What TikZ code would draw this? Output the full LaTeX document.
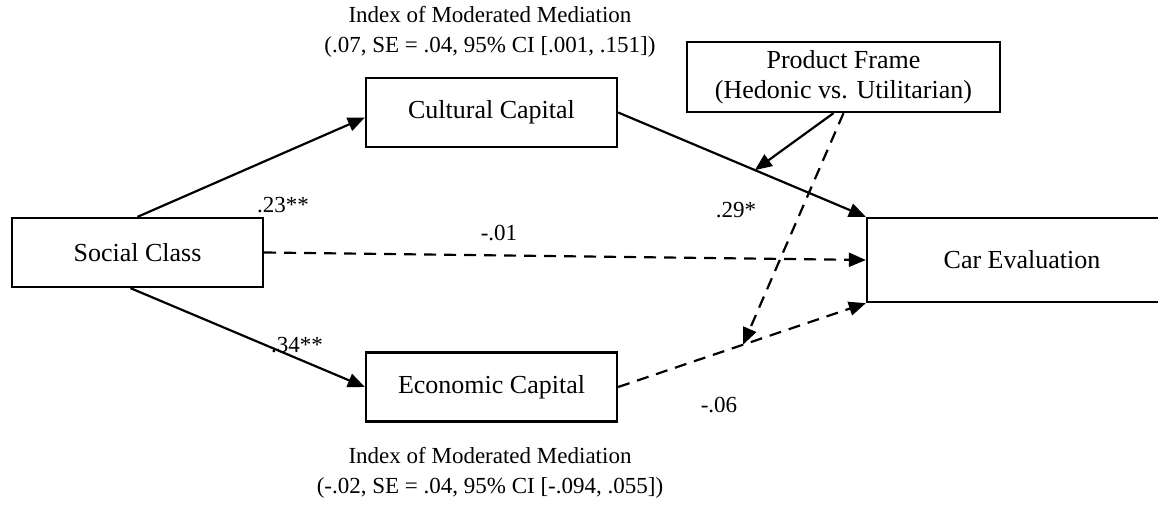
\documentclass[tikz,border=0pt]{standalone}
\usepackage{fontspec}
\setmainfont{Liberation Serif}
\usetikzlibrary{arrows.meta,calc}
\begin{document}
\begin{tikzpicture}[x=1pt,y=-1pt,
  box/.style={draw,line width=2.3pt,inner sep=0pt,font=\fontsize{26}{30}\selectfont,align=center},
  lbl/.style={inner sep=0pt,font=\fontsize{23}{30}\selectfont,align=center},
  conn/.style={line width=2.2pt,-{Triangle[length=17pt,width=14pt]}},
  dconn/.style={conn,dash pattern=on 12pt off 8pt}]
\useasboundingbox (0,0) rectangle (1158,527);
\node[box,minimum width=251pt,minimum height=69pt] (SC) at (137.5,252.5) {Social Class};
\node[box,minimum width=251pt,minimum height=69pt] (CC) at (491.5,112.5) {Cultural Capital};
\node[box,minimum width=251pt,minimum height=69pt] (EC) at (491.5,387) {Economic Capital};
\node[box,minimum width=313pt,minimum height=70pt] (PF) at (843.5,77) {Product Frame\\(Hedonic vs. Utilitarian)};
\node[box,minimum width=310pt,minimum height=84pt] (CE) at (1022,260) {Car Evaluation};
\coordinate (m1) at ($(CC.east)!0.552!(CE.north west)$);
\coordinate (m2) at ($(EC.east)!0.504!(CE.south west)$);
\draw[conn] (SC.north) -- ([yshift=-5pt]CC.west);
\draw[conn] ([xshift=-7pt]SC.south) -- (EC.west);
\draw[dconn] (SC.east) -- (CE.west);
\draw[conn] (CC.east) -- (CE.north west);
\draw[dconn] (EC.east) -- (CE.south west);
\draw[conn] ([xshift=-10pt]PF.south) -- (m1);
\draw[dconn] (PF.south) -- (m2);
\node[lbl] (l23) at (283,205) {.23**};
\node[lbl] (l34) at (297,345) {.34**};
\node[lbl] (l01) at (499,233) {-.01};
\node[lbl] (l29) at (736,210) {.29*};
\node[lbl] (l06) at (719,405) {-.06};
\node[lbl] (top) at (490,32) {Index of Moderated Mediation\\(.07, SE = .04, 95\% CI [.001, .151])};
\node[lbl] (bot) at (490,473) {Index of Moderated Mediation\\(-.02, SE = .04, 95\% CI [-.094, .055])};
\end{tikzpicture}
\end{document}
